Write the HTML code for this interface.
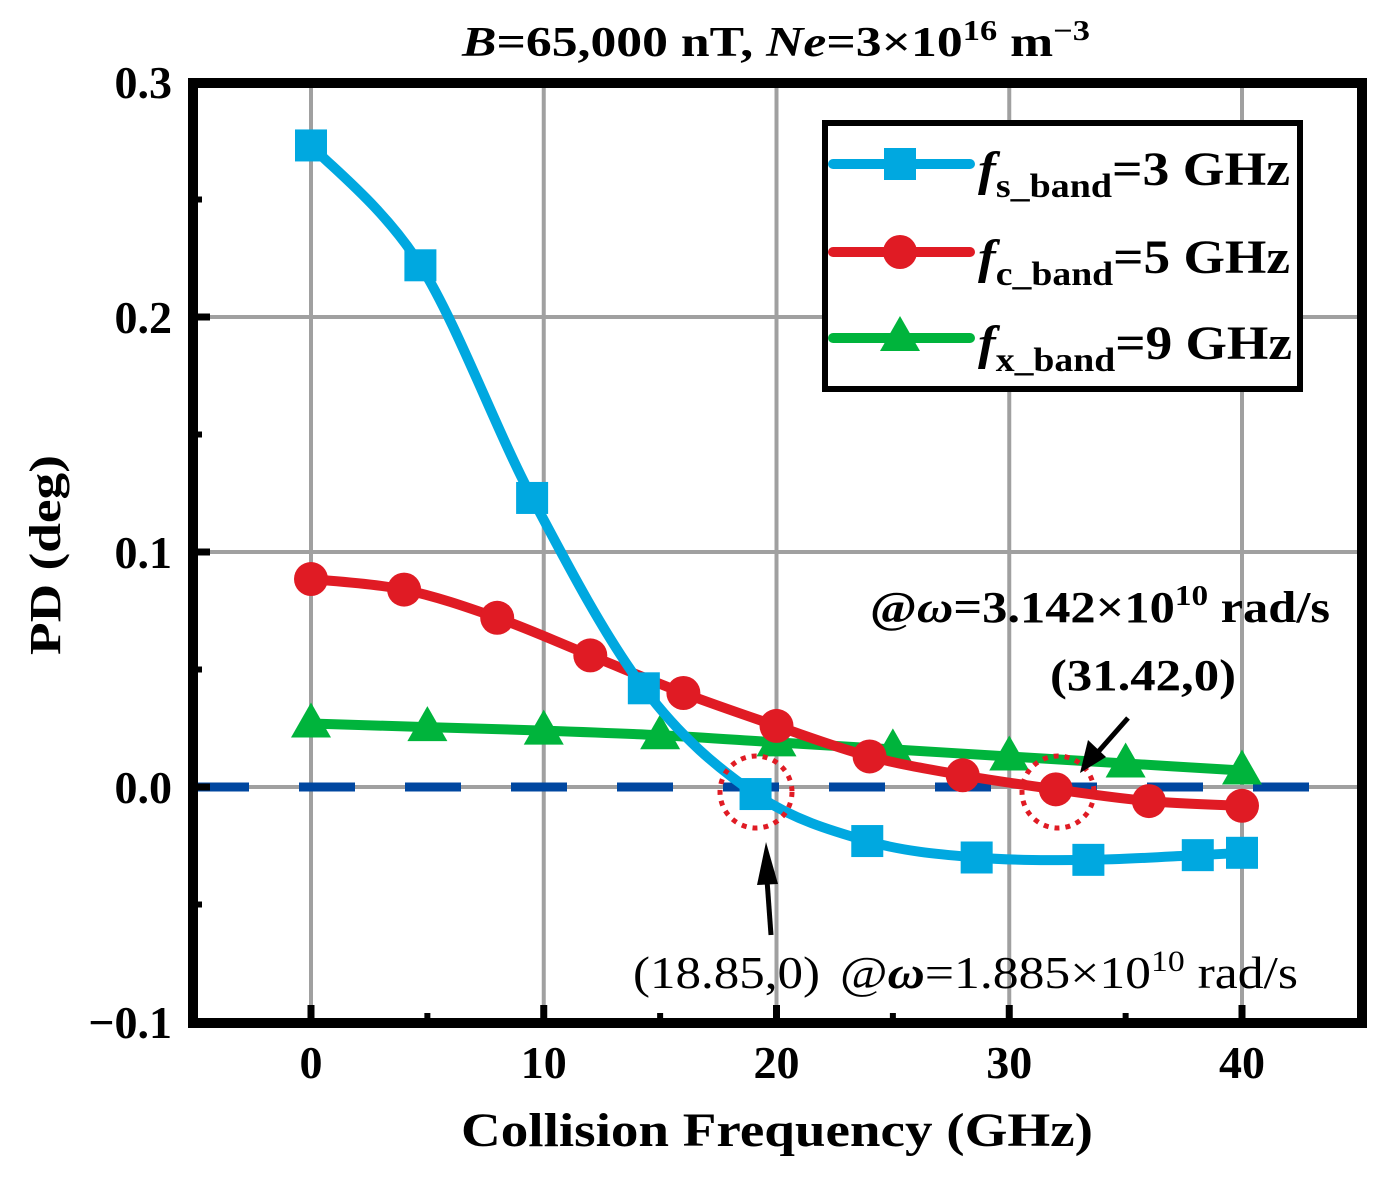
<!DOCTYPE html>
<html><head><meta charset="utf-8"><style>
html,body{margin:0;padding:0;background:#fff;}
svg{display:block;font-family:"Liberation Serif",serif;}
</style></head><body>
<svg id="chart" width="1383" height="1179" viewBox="0 0 1383 1179">
<g id="grid"></g>
<g id="zero"></g>
<g id="series"></g>
<rect x="193" y="83" width="1169" height="940" fill="none" stroke="#000" stroke-width="10"/>
<g id="ticks"></g>
<text x="462" y="56" font-size="42" font-weight="bold" textLength="628" lengthAdjust="spacingAndGlyphs"><tspan font-style="italic">B</tspan>=65,000 nT, <tspan font-style="italic">Ne</tspan>=3×10<tspan font-size="28" dy="-16">16</tspan><tspan dy="16"> m</tspan><tspan font-size="28" dy="-16">−3</tspan></text>
<text transform="translate(60,555) rotate(-90)" text-anchor="middle" font-size="44" font-weight="bold" textLength="200" lengthAdjust="spacingAndGlyphs">PD (deg)</text>
<text x="777" y="1146" text-anchor="middle" font-size="48" font-weight="bold" textLength="632" lengthAdjust="spacingAndGlyphs">Collision Frequency (GHz)</text>
<g>
<rect x="825" y="123" width="475" height="266" fill="#fff" stroke="#000" stroke-width="6"/>
<line x1="833" y1="164" x2="970" y2="164" stroke="#00a8e0" stroke-width="10" stroke-linecap="round"/>
<rect x="884" y="148" width="32" height="32" fill="#00a8e0"/>
<text x="978" y="185" font-size="48" font-weight="bold" textLength="312" lengthAdjust="spacingAndGlyphs"><tspan font-style="italic">f</tspan><tspan font-size="34" dy="12">s_band</tspan><tspan dy="-12">=3 GHz</tspan></text>
<line x1="833" y1="252" x2="970" y2="252" stroke="#e01b24" stroke-width="10" stroke-linecap="round"/>
<circle cx="900" cy="252" r="17" fill="#e01b24"/>
<text x="978" y="273" font-size="48" font-weight="bold" textLength="312" lengthAdjust="spacingAndGlyphs"><tspan font-style="italic">f</tspan><tspan font-size="34" dy="12">c_band</tspan><tspan dy="-12">=5 GHz</tspan></text>
<line x1="833" y1="338" x2="970" y2="338" stroke="#00b43c" stroke-width="10" stroke-linecap="round"/>
<polygon points="880,351 920,351 900,316" fill="#00b43c"/>
<text x="978" y="359" font-size="48" font-weight="bold" textLength="314" lengthAdjust="spacingAndGlyphs"><tspan font-style="italic">f</tspan><tspan font-size="34" dy="12">x_band</tspan><tspan dy="-12">=9 GHz</tspan></text>
</g>
<g>
<circle cx="756" cy="792" r="36" fill="none" stroke="#e01b24" stroke-width="5" stroke-dasharray="5 6"/>
<circle cx="1058" cy="792" r="36" fill="none" stroke="#e01b24" stroke-width="5" stroke-dasharray="5 6"/>
<line x1="771" y1="935" x2="767" y2="880" stroke="#000" stroke-width="5"/>
<polygon points="757,885 778,884 766,842" fill="#000"/>
<line x1="1128" y1="718" x2="1098" y2="752" stroke="#000" stroke-width="5"/>
<polygon points="1088,740 1106,757 1080,773" fill="#000"/>
<text x="870" y="622" font-size="44" font-weight="bold" textLength="460" lengthAdjust="spacingAndGlyphs">@<tspan font-style="italic">ω</tspan>=3.142×10<tspan font-size="29" dy="-17">10</tspan><tspan dy="17"> rad/s</tspan></text>
<text x="1050" y="690" font-size="44" font-weight="bold" textLength="186" lengthAdjust="spacingAndGlyphs">(31.42,0)</text>
<text x="633" y="988" font-size="46" textLength="187" lengthAdjust="spacingAndGlyphs">(18.85,0)</text>
<text x="840" y="988" font-size="46" textLength="458" lengthAdjust="spacingAndGlyphs">@<tspan font-style="italic" font-weight="bold">ω</tspan>=1.885×10<tspan font-size="30" dy="-17">10</tspan><tspan dy="17"> rad/s</tspan></text>
</g>
</svg>
<script>
const xTicks=[0,10,20,30,40];
const xMinor=[5,15,25,35];
const yTicks=[-0.1,0.0,0.1,0.2,0.3];
const yTickLabels=["−0.1","0.0","0.1","0.2","0.3"];
const yMinor=[-0.05,0.05,0.15,0.25];
const sX=[0,4.7,9.5,14.3,19.1,23.9,28.6,33.4,38.1,40];
const sY=[0.273,0.222,0.123,0.042,-0.003,-0.023,-0.030,-0.031,-0.029,-0.028];
const cX=[0,4,8,12,16,20,24,28,32,36,40];
const cY=[0.0885,0.084,0.072,0.056,0.040,0.026,0.013,0.005,-0.001,-0.006,-0.008];
const xbX=[0,5,10,15,20,25,30,35,40];
const xbY=[0.027,0.0255,0.024,0.022,0.019,0.016,0.013,0.010,0.007];
const NS="http://www.w3.org/2000/svg";
const X=v=>311+v*23.275;
const Y=v=>787-v*2350;
function mk(tag,attrs,parent){const e=document.createElementNS(NS,tag);for(const k in attrs)e.setAttribute(k,attrs[k]);parent.appendChild(e);return e;}
const grid=document.getElementById('grid'),tickG=document.getElementById('ticks'),ser=document.getElementById('series'),zero=document.getElementById('zero');
xTicks.forEach(v=>{
 const l=mk('line',{x1:X(v),x2:X(v),y1:83,y2:1023,stroke:'#a0a0a0','stroke-width':4},grid);
 
 
 const t=mk('line',{x1:X(v),x2:X(v),y1:1023,y2:1005,stroke:'#000','stroke-width':7},tickG);
 
 
 const tx=mk('text',{x:X(v),y:1078,'text-anchor':'middle','font-size':46,'font-weight':'bold'},tickG);
 tx.textContent=v;
 
 
});
xMinor.forEach(v=>{
 const t=mk('line',{x1:X(v),x2:X(v),y1:1023,y2:1013,stroke:'#000','stroke-width':6},tickG);
 
 
});
yTicks.forEach((v,i)=>{
 const l=mk('line',{x1:193,x2:1362,y1:Y(v),y2:Y(v),stroke:'#a0a0a0','stroke-width':4},grid);
 
 
 const t=mk('line',{x1:193,x2:210,y1:Y(v),y2:Y(v),stroke:'#000','stroke-width':7},tickG);
 
 
 const tx=mk('text',{x:172,y:Y(v)+16,'text-anchor':'end','font-size':46,'font-weight':'bold'},tickG);
 tx.textContent=yTickLabels[i];
 
 
});
yMinor.forEach(v=>{
 const t=mk('line',{x1:193,x2:202,y1:Y(v),y2:Y(v),stroke:'#000','stroke-width':6},tickG);
 
 
});
const zl=mk('line',{x1:193,x2:1366,y1:Y(0),y2:Y(0),stroke:'#0047a0','stroke-width':9,'stroke-dasharray':'56 50'},zero);


function smooth(xs,ys){
 const p=xs.map((x,i)=>[X(x),Y(ys[i])]);
 let d='M'+p[0][0]+','+p[0][1];
 for(let i=0;i<p.length-1;i++){
  const p0=p[Math.max(0,i-1)],p1=p[i],p2=p[i+1],p3=p[Math.min(p.length-1,i+2)];
  const c1=[p1[0]+(p2[0]-p0[0])/6,p1[1]+(p2[1]-p0[1])/6];
  const c2=[p2[0]-(p3[0]-p1[0])/6,p2[1]-(p3[1]-p1[1])/6];
  d+=' C'+c1+' '+c2+' '+p2;
 }
 return d;
}
function drawSeries(xs,ys,color,kind,name){
 const g=mk('g',{},ser);
 
 
 const pth=mk('path',{d:smooth(xs,ys),fill:'none',stroke:color,'stroke-width':10,'stroke-linecap':'round'},g);
 
 
 xs.forEach((x,i)=>{
  const cx=X(x),cy=Y(ys[i]);let m;
  if(kind==='sq')m=mk('rect',{x:cx-16,y:cy-16,width:32,height:32,fill:color},g);
  else if(kind==='ci')m=mk('circle',{cx:cx,cy:cy,r:17,fill:color},g);
  else m=mk('polygon',{points:(cx-20)+','+(cy+14)+' '+(cx+20)+','+(cy+14)+' '+cx+','+(cy-21),fill:color},g);
  
  
 });
}
drawSeries(xbX,xbY,'#00b43c','tr','series-x-band');
drawSeries(cX,cY,'#e01b24','ci','series-c-band');
drawSeries(sX,sY,'#00a8e0','sq','series-s-band');
</script>
</body></html>
